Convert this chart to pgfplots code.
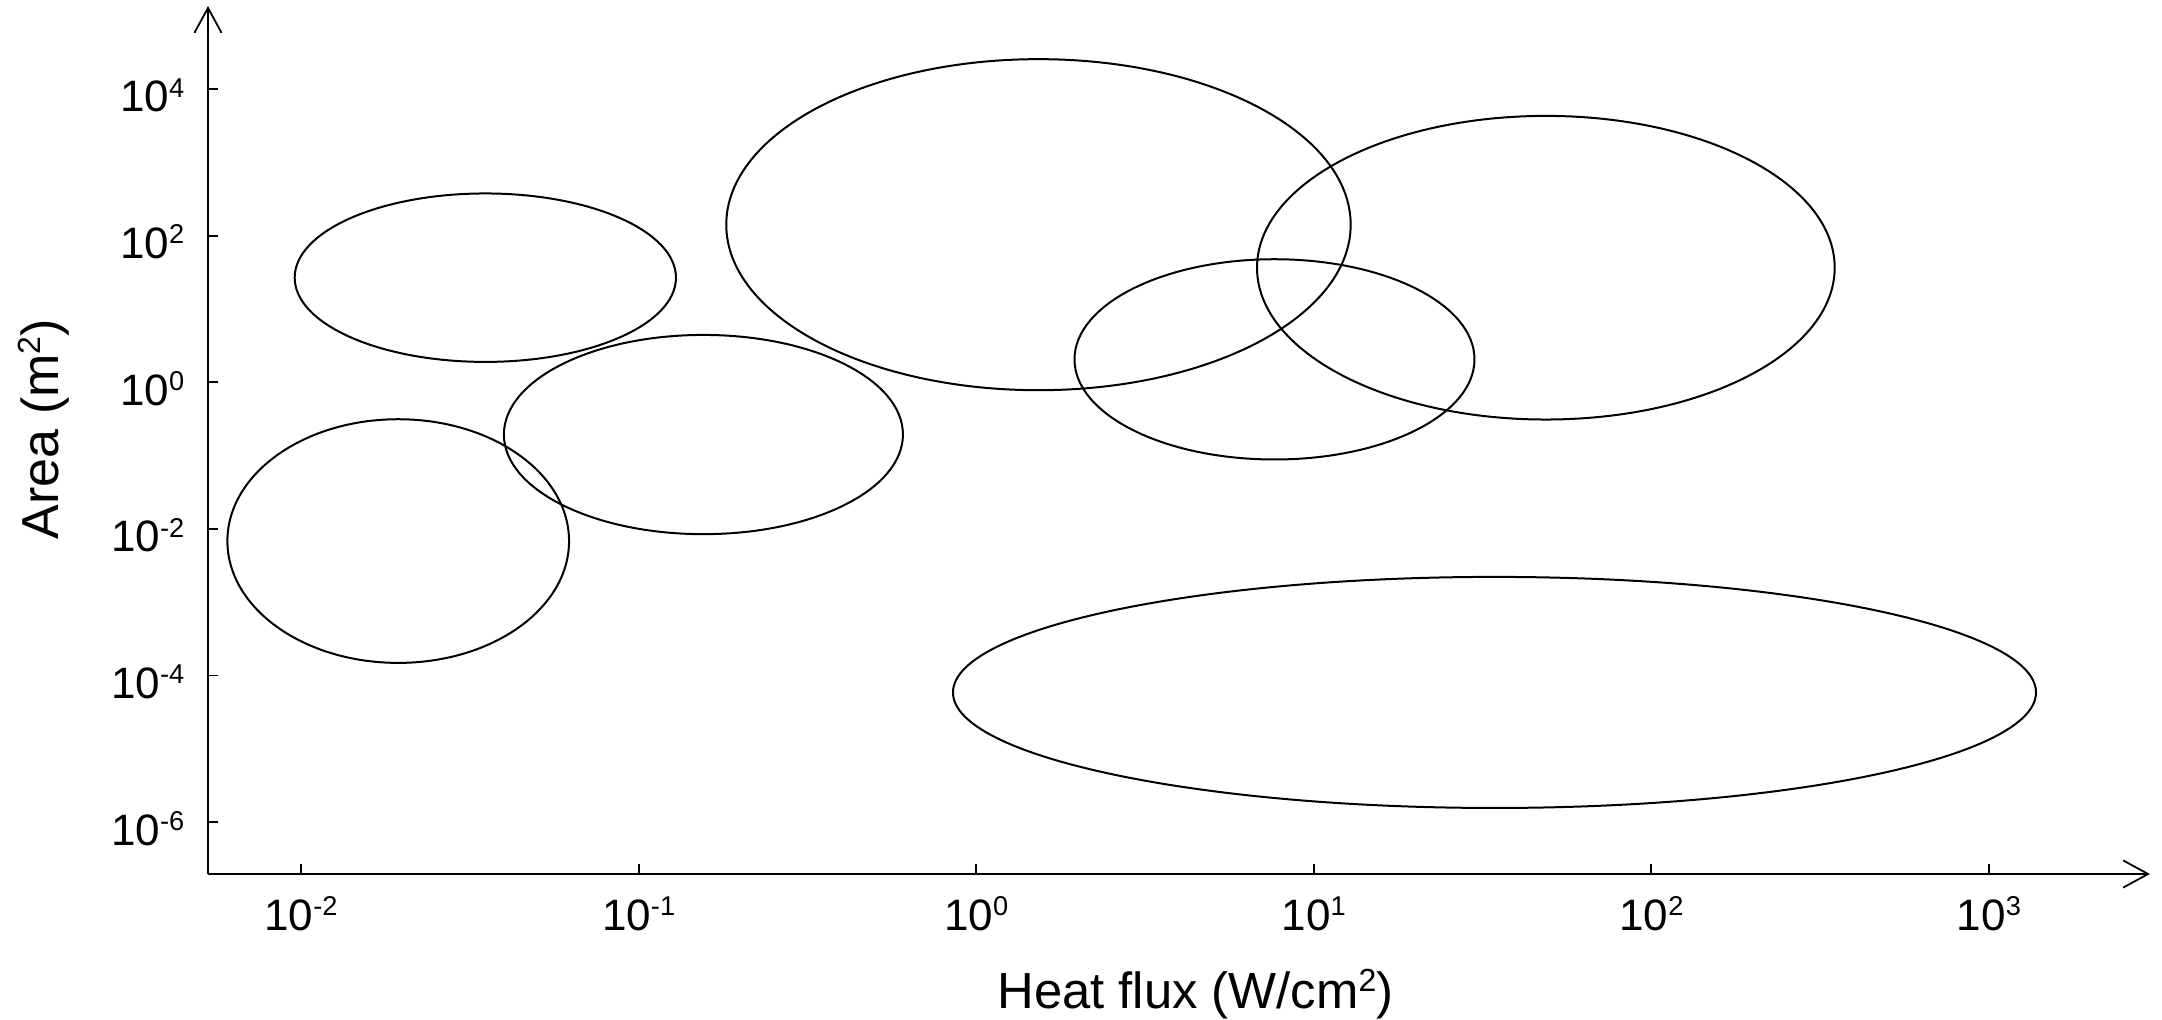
\documentclass[border=0pt]{standalone}
\usepackage{fontspec}
\setmainfont{Liberation Sans}
\usepackage{pgfplots}
\pgfplotsset{compat=1.18}
\usetikzlibrary{arrows.meta}
\newcommand{\tsup}[1]{\raisebox{3.7pt}{\fontsize{6.8}{7}\selectfont #1}}
\newcommand{\lsup}[1]{\raisebox{4.4pt}{\fontsize{8}{9}\selectfont #1}}
\newcommand{\dec}[1]{10\tsup{#1}}
\begin{document}
\begin{tikzpicture}
\useasboundingbox (-52pt,-36.25pt) rectangle (488.5pt,218.5pt);
\begin{axis}[
  at={(0,0)}, anchor=south west,
  scale only axis, width=485.5pt, height=217pt,
  xmin=-2.2755, xmax=3.477, ymin=-6.709, ymax=5.132,
  axis lines=left,
  axis line style={line width=0.45pt, black},
  x axis line style={-{Straight Barb[length=6.25pt,width=6.8pt]}},
  y axis line style={-{Straight Barb[length=6.25pt,width=6.8pt]}},
  xtick={-2,-1,0,1,2,3},
  xticklabels={\dec{-2},\dec{-1},\dec{0},\dec{1},\dec{2},\dec{3}},
  ytick={-6,-4,-2,0,2,4},
  yticklabels={\dec{-6},\dec{-4},\dec{-2},\dec{0},\dec{2},\dec{4}},
  minor tick num=0,
  tick style={black, line width=0.45pt},
  major tick length=2.6pt,
  tick align=inside,
  xticklabel style={font=\fontsize{11}{12}\selectfont, anchor=base, inner sep=0pt, yshift=-14pt},
  yticklabel style={font=\fontsize{11}{12}\selectfont, anchor=base east, inner sep=0pt, xshift=-5.75pt, yshift=-5.75pt},
  xlabel={Heat flux (W/cm\lsup{2})},
  xlabel style={font=\fontsize{12.7}{15}\selectfont, at={(axis description cs:0.4061,-0.1555)}, anchor=base west, inner sep=0pt},
  ylabel={Area (m\lsup{2})},
  ylabel style={font=\fontsize{13}{15}\selectfont, at={(axis description cs:-0.0772,0.3848)}, anchor=base west, inner sep=0pt},
  clip=false,
]
% ellipses in decades: centre (log10 q, log10 A), half-widths in decades
\draw[line width=0.5pt] (axis cs:-1.454,1.426) ellipse [x radius=0.5647, y radius=1.149];
\draw[line width=0.5pt] (axis cs:-0.808,-0.714) ellipse [x radius=0.591, y radius=1.359];
\draw[line width=0.5pt] (axis cs:-1.712,-2.167) ellipse [x radius=0.506, y radius=1.662];
\draw[line width=0.5pt] (axis cs:0.1845,2.149) ellipse [x radius=0.9248, y radius=2.258];
\draw[line width=0.5pt] (axis cs:0.8836,0.3117) ellipse [x radius=0.5924, y radius=1.366];
\draw[line width=0.5pt] (axis cs:1.6874,1.562) ellipse [x radius=0.8556, y radius=2.071];
\draw[line width=0.5pt] (axis cs:1.5353,-4.232) ellipse [x radius=1.604, y radius=1.576];
\end{axis}
\end{tikzpicture}
\end{document}
